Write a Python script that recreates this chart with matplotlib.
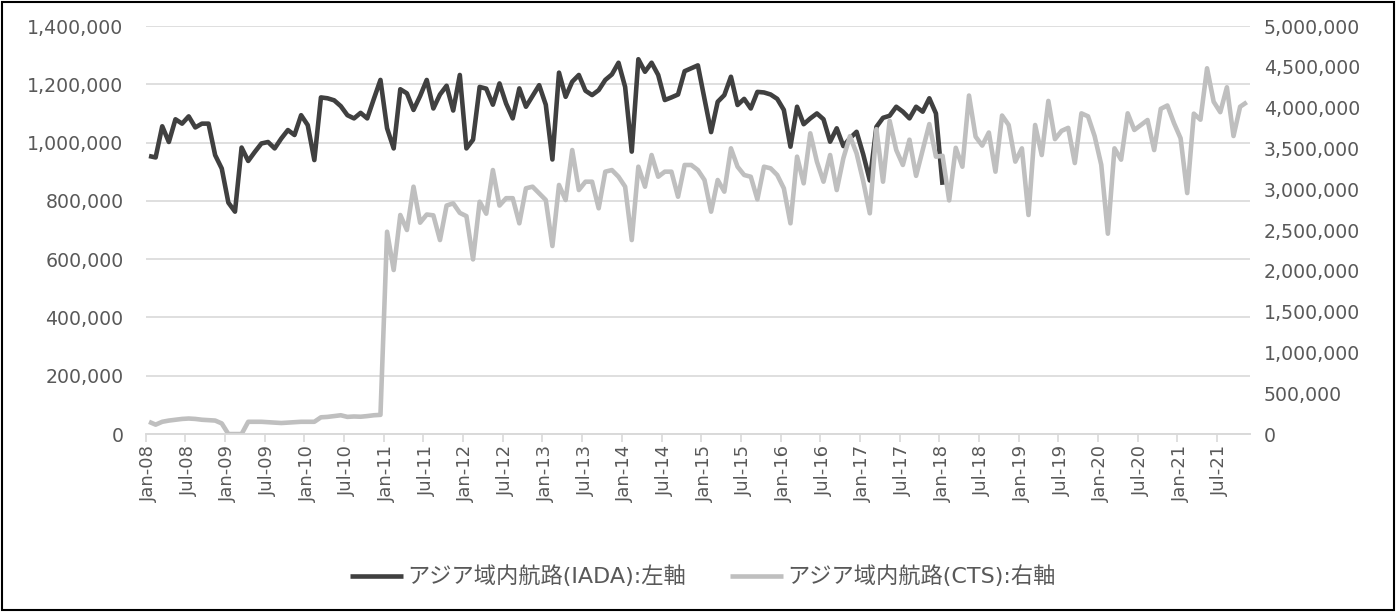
import numpy as np
import pandas as pd
import matplotlib
matplotlib.use("Agg")
import matplotlib.pyplot as plt
from matplotlib.patches import Rectangle
from matplotlib.ticker import FuncFormatter, MultipleLocator

plt.rcParams['font.family'] = ['DejaVu Sans', 'Noto Sans CJK JP']

# 月次 (Jan-08 .. Nov-21)
months = pd.date_range('2008-01-01', periods=167, freq='MS')
month_labels = [d.strftime('%b-%y') for d in months]

# アジア域内航路(IADA) TEU, Jan-08 .. Jan-18 (left axis)
iada = [
    954, 949, 1056, 1002, 1080, 1065, 1090, 1052, 1065, 1065, 957, 911,
    794, 763, 983, 937, 968, 997, 1002, 980, 1014, 1043, 1026, 1094,
    1060, 940, 1155, 1152, 1145, 1125, 1094, 1083, 1102, 1083, 1150, 1215,
    1049, 980, 1183, 1169, 1112, 1160, 1215, 1117, 1165, 1195, 1110, 1232,
    980, 1010, 1191, 1185, 1130, 1203, 1134, 1083, 1186, 1123, 1160, 1197,
    1130, 942, 1240, 1157, 1209, 1232, 1178, 1163, 1180, 1215, 1234, 1274,
    1191, 969, 1286, 1243, 1274, 1232, 1146, 1155, 1165, 1245, 1255, 1265,
    1150, 1036, 1140, 1163, 1226, 1129, 1150, 1117, 1174, 1172, 1165, 1150,
    1112, 986, 1123, 1063, 1083, 1100, 1080, 1003, 1049, 988, 1015, 1037,
    960, 870, 1054, 1085, 1092, 1123, 1106, 1083, 1123, 1106, 1152, 1100,
    855,
]
iada = [v * 1000 for v in iada]

# アジア域内航路(CTS) TEU, Jan-08 .. Nov-21 (right axis)
cts = [
    150, 115, 150, 165, 175, 185, 190, 185, 175, 170, 165, 130,
    0, 0, 0, 150, 150, 150, 145, 140, 135, 140, 145, 150,
    150, 150, 205, 210, 220, 230, 210, 215, 212, 220, 230, 235,
    2479, 2010, 2684, 2500, 3031, 2590, 2690, 2680, 2377, 2800, 2827, 2710,
    2670, 2140, 2847, 2700, 3235, 2800, 2890, 2890, 2582, 3011, 3031, 2949,
    2868, 2304, 3052, 2868, 3480, 2990, 3092, 3092, 2766, 3215, 3235, 3153,
    3031, 2377, 3276, 3031, 3419, 3153, 3215, 3215, 2908, 3297, 3297, 3235,
    3113, 2725, 3113, 2970, 3501, 3276, 3174, 3153, 2876, 3276, 3256, 3174,
    3011, 2582, 3399, 3072, 3685, 3338, 3092, 3419, 2990, 3380, 3650, 3440,
    3100, 2705, 3736, 3092, 3838, 3480, 3297, 3607, 3164, 3480, 3798, 3399,
    3410, 2863, 3507, 3276, 4148, 3644, 3535, 3695, 3215, 3903, 3787, 3338,
    3501, 2684, 3787, 3419, 4082, 3614, 3715, 3752, 3321, 3930, 3893, 3650,
    3300, 2455, 3501, 3362, 3930, 3726, 3787, 3848, 3480, 3985, 4026, 3810,
    3624, 2953, 3926, 3852, 4482, 4072, 3944, 4249, 3652, 4011, 4066,
]
cts = [v * 1000 for v in cts]

label_iada = 'アジア域内航路(IADA):左軸'
label_cts = 'アジア域内航路(CTS):右軸'

text_col = '#595959'
grid_col = '#D9D9D9'

fig = plt.figure(figsize=(13.97, 6.12), dpi=100)
ax = fig.add_axes([0.1043, 0.2908, 0.7905, 0.6667])
ax2 = ax.twinx()

x_iada = np.arange(len(iada))
x_cts = np.arange(len(cts))
l1, = ax.plot(x_iada, iada, color='#404040', lw=3.3, solid_joinstyle='round',
              solid_capstyle='butt', label=label_iada)
l2, = ax2.plot(x_cts, cts, color='#BFBFBF', lw=3.3, solid_joinstyle='round',
               solid_capstyle='butt', label=label_cts)

ax.set_xlim(-0.5, len(months) - 0.5)
ax.set_ylim(0, 1400000)
ax2.set_ylim(0, 5000000)
ax.yaxis.set_major_locator(MultipleLocator(200000))
ax2.yaxis.set_major_locator(MultipleLocator(500000))
fmt = FuncFormatter(lambda v, p: f'{int(v):,}')
ax.yaxis.set_major_formatter(fmt)
ax2.yaxis.set_major_formatter(fmt)

# category labels every 6 months, tick marks on the category boundaries
lab_pos = np.arange(0, len(months), 6)
ax.set_xticks(lab_pos)
ax.set_xticklabels([month_labels[i] for i in lab_pos], rotation=90)
ax.set_xticks(lab_pos - 0.5, minor=True)
ax.tick_params(axis='x', which='major', length=0, pad=8, labelsize=13, labelcolor=text_col)
ax.tick_params(axis='x', which='minor', length=6, width=1.2, color=grid_col, direction='out')

ax.tick_params(axis='y', length=0, pad=16, labelsize=13.6, labelcolor=text_col)
ax2.tick_params(axis='y', length=0, pad=10, labelsize=13.6, labelcolor=text_col)

ax.grid(axis='y', color=grid_col, lw=1.2)
ax.set_axisbelow(True)
for a in (ax, ax2):
    for s in ('top', 'left', 'right'):
        a.spines[s].set_visible(False)
    a.spines['bottom'].set_color(grid_col)
    a.spines['bottom'].set_linewidth(1.2)

fig.legend(handles=[l1, l2], loc='center', bbox_to_anchor=(0.503, 0.058), ncol=2,
           frameon=False, fontsize=16, handlelength=2.4, handletextpad=0.18,
           columnspacing=1.95, labelcolor=text_col)

fig.add_artist(Rectangle((0.0015, 0.004), 0.996, 0.992, transform=fig.transFigure,
                         fill=False, edgecolor='black', lw=1.5))

fig.savefig('out.png', dpi=100)
